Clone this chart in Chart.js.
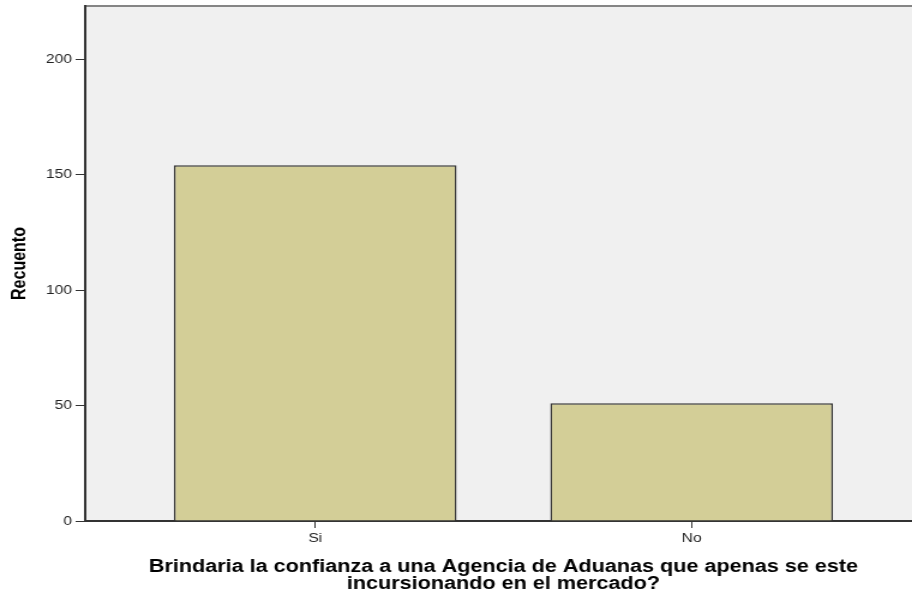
<!DOCTYPE html>
<html><head><meta charset="utf-8">
<script src="https://cdn.jsdelivr.net/npm/chart.js@4"></script>
<style>html,body{margin:0;padding:0;background:#fff;overflow:hidden;width:912px;height:596px}#c{transform:scaleX(1.2);transform-origin:0 0;display:block}</style>
</head><body><canvas id="c" width="768" height="596"></canvas>
<script>
const categories = ['Si', 'No'];
const counts = [154, 51];
const yTicks = [0, 50, 100, 150, 200];
const xTitle = ['Brindaria la confianza a una Agencia de Aduanas que apenas se este', 'incursionando en el mercado?'];
const yTitle = 'Recuento';

const plotBg = {
  id: 'plotBg',
  beforeDraw(chart) {
    const {ctx, chartArea: a} = chart;
    ctx.save();
    ctx.fillStyle = '#f0f0f0';
    ctx.fillRect(a.left, a.top, a.right - a.left, a.bottom - a.top);
    ctx.strokeStyle = '#858585';
    ctx.lineWidth = 2;
    ctx.beginPath(); ctx.moveTo(a.left, a.top); ctx.lineTo(a.right, a.top); ctx.stroke();
    ctx.restore();
  }
};

new Chart(document.getElementById('c'), {
  type: 'bar',
  data: {
    datasets: [{
      data: categories.map((c, i) => ({x: i + 1, y: counts[i]})),
      backgroundColor: '#d3ce97',
      borderColor: '#333333',
      borderWidth: 1.5,
      barPercentage: 0.751,
      categoryPercentage: 1
    }]
  },
  options: {
    responsive: false,
    animation: false,
    devicePixelRatio: 1,
    layout: {padding: {top: 6, left: 0, right: 0, bottom: 0}},
    plugins: {legend: {display: false}, tooltip: {enabled: false}},
    scales: {
      x: {
        type: 'linear', min: 0.389, max: 2.611, offset: false,
        afterBuildTicks(s) { s.ticks = categories.map((c, i) => ({value: i + 1})); },
        afterFit(s) { s.height = 75; s.paddingLeft = 0; s.paddingRight = 0; },
        grid: {offset: false, drawOnChartArea: false, drawTicks: true, tickLength: 7, color: '#333'},
        border: {color: '#333', width: 2},
        ticks: {callback: v => categories[v - 1], color: '#222', font: {family: 'Liberation Sans', size: 13}, padding: 3, maxRotation: 0, autoSkip: false},
        title: {display: true, text: xTitle, color: '#000', font: {family: 'Liberation Sans', size: 18, weight: 'bold', lineHeight: '17px'}, padding: {top: 0, bottom: 3}}
      },
      y: {
        min: 0, max: 223,
        afterBuildTicks(s) { s.ticks = yTicks.map(v => ({value: v})); },
        afterFit(s) { s.width = 71; s.paddingTop = 0; s.paddingBottom = 0; },
        grid: {drawOnChartArea: false, drawTicks: true, tickLength: 8, color: '#333'},
        border: {color: '#333', width: 2},
        ticks: {color: '#222', font: {family: 'Liberation Sans', size: 13}, padding: 3},
        title: {display: true, text: yTitle, color: '#000', font: {family: 'Liberation Sans', size: 16, weight: 'bold', lineHeight: 1.2}, padding: {top: 7, bottom: 0}}
      }
    }
  },
  plugins: [plotBg]
});
</script></body></html>
